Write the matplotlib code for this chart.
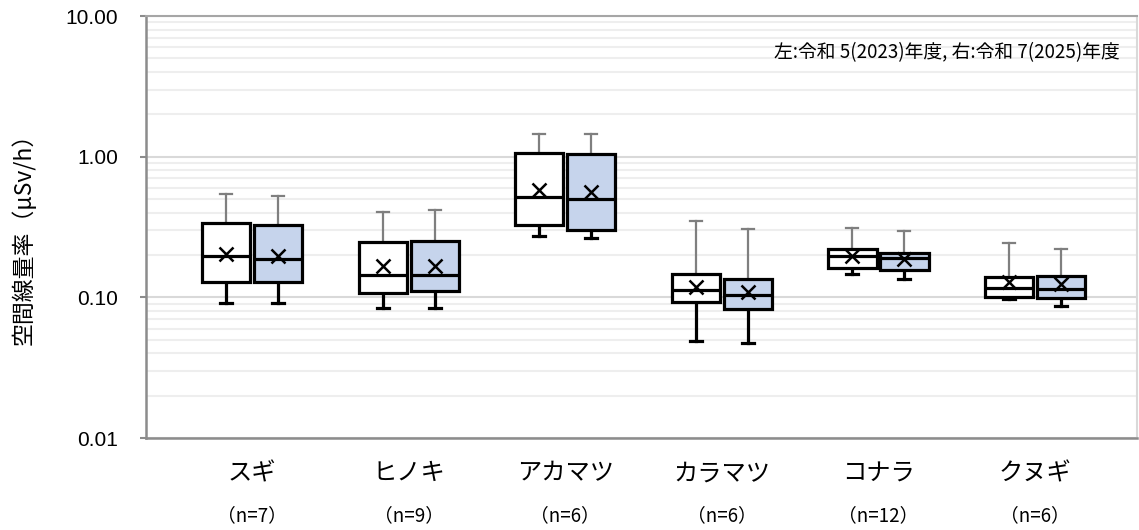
import matplotlib
matplotlib.use("Agg")
import matplotlib.pyplot as plt
import matplotlib.transforms as mtransforms
from matplotlib.ticker import LogLocator, FuncFormatter, NullFormatter

JP = ["Noto Sans CJK JP", "DejaVu Sans"]
NUM = ["Liberation Sans", "DejaVu Sans"]

species = ["スギ", "ヒノキ", "アカマツ", "カラマツ", "コナラ", "クヌギ"]
n_counts = [7, 9, 6, 6, 12, 6]

# 令和5年度 (left boxes)
r5_min = [0.091, 0.084, 0.273, 0.049, 0.146, 0.098]
r5_q1 = [0.128, 0.108, 0.327, 0.092, 0.161, 0.100]
r5_med = [0.198, 0.144, 0.514, 0.112, 0.198, 0.116]
r5_q3 = [0.336, 0.246, 1.07, 0.147, 0.221, 0.139]
r5_max = [0.543, 0.406, 1.45, 0.351, 0.310, 0.242]
r5_mean = [0.203, 0.167, 0.579, 0.119, 0.197, 0.129]

# 令和7年度 (right boxes)
r7_min = [0.091, 0.084, 0.265, 0.047, 0.134, 0.087]
r7_q1 = [0.128, 0.111, 0.301, 0.082, 0.156, 0.0985]
r7_med = [0.186, 0.144, 0.500, 0.104, 0.189, 0.115]
r7_q3 = [0.327, 0.252, 1.04, 0.134, 0.207, 0.142]
r7_max = [0.528, 0.418, 1.45, 0.305, 0.298, 0.222]
r7_mean = [0.197, 0.167, 0.564, 0.110, 0.186, 0.124]

note = "左:令和 5(2023)年度, 右:令和 7(2025)年度"
ylabel = "空間線量率（μSv/h）"


def stats(lo, q1, med, q3, hi, mean):
    return [dict(whislo=a, q1=b, med=c, q3=d, whishi=e, mean=f, fliers=[])
            for a, b, c, d, e, f in zip(lo, q1, med, q3, hi, mean)]


fig = plt.figure(figsize=(11.39, 5.30), dpi=100)
ax = fig.add_axes([146 / 1139, 1 - 438 / 530, 991 / 1139, 422 / 530])

off, w = 0.166, 0.308
for data, shift, face in ((stats(r5_min, r5_q1, r5_med, r5_q3, r5_max, r5_mean), -off, "white"),
                          (stats(r7_min, r7_q1, r7_med, r7_q3, r7_max, r7_mean), off, "#c6d4ec")):
    pos = [i + shift for i in range(len(species))]
    art = ax.bxp(data, positions=pos, widths=w, capwidths=0.077,
                 showmeans=True, showfliers=False, patch_artist=True,
                 manage_ticks=False,
                 boxprops=dict(facecolor=face, edgecolor="black", linewidth=2.3),
                 medianprops=dict(color="black", linewidth=2.3),
                 whiskerprops=dict(color="black", linewidth=2.3),
                 capprops=dict(color="black", linewidth=2.3),
                 meanprops=dict(marker="x", markersize=10, markeredgecolor="black",
                                markeredgewidth=1.8))
    # upper whiskers and caps are drawn thinner in gray
    for k in range(len(species)):
        for ln in (art["whiskers"][2 * k + 1], art["caps"][2 * k + 1]):
            ln.set_color("#7f7f7f")
            ln.set_linewidth(1.6)
        for ln in (art["whiskers"][2 * k], art["whiskers"][2 * k + 1],
                   art["caps"][2 * k], art["caps"][2 * k + 1]):
            ln.set_zorder(1.5)

ax.set_yscale("log")
ax.set_ylim(0.01, 10)
ax.set_xlim(-0.677, 5.651)
ax.yaxis.set_major_locator(LogLocator(base=10, numticks=10))
ax.yaxis.set_minor_locator(LogLocator(base=10, subs=range(2, 10), numticks=20))
ax.yaxis.set_major_formatter(FuncFormatter(lambda v, p: f"{v:.2f}"))
ax.yaxis.set_minor_formatter(NullFormatter())
ax.grid(True, which="major", axis="y", color="#d9d9d9", linewidth=1.5, zorder=0)
ax.grid(True, which="minor", axis="y", color="#eeeeee", linewidth=1.5, zorder=0)
ax.set_axisbelow(True)

ax.tick_params(axis="y", which="major", length=4.3, width=1.5, color="#8c8c8c",
               pad=16, labelsize=15)
ax.tick_params(axis="y", which="minor", length=0)
for lab in ax.get_yticklabels():
    lab.set_family(NUM)

ax.set_xticks(range(len(species)))
ax.set_xticklabels(species, family=JP, fontsize=17.5)
ax.tick_params(axis="x", length=0, pad=16)

trans = mtransforms.blended_transform_factory(ax.transData, ax.transAxes)
for i, n in enumerate(n_counts):
    ax.text(i, -0.183, f"（n={n}）", transform=trans, ha="center", va="center",
            family=JP, fontsize=13.5)

ax.text(0.983, 0.914, note, transform=ax.transAxes, ha="right", va="center",
        family=JP, fontsize=13.5)

fig.text(23 / 1139, 1 - 233 / 530, ylabel, rotation=90, ha="center", va="center",
         family=JP, fontsize=16.5)

for side in ("left", "bottom"):
    ax.spines[side].set_color("#8c8c8c")
    ax.spines[side].set_linewidth(1.8)
ax.spines["top"].set_color("#a6a6a6")
ax.spines["top"].set_linewidth(1.5)
ax.spines["right"].set_color("#d9d9d9")
ax.spines["right"].set_linewidth(1.5)

fig.savefig("out.png", dpi=100)
